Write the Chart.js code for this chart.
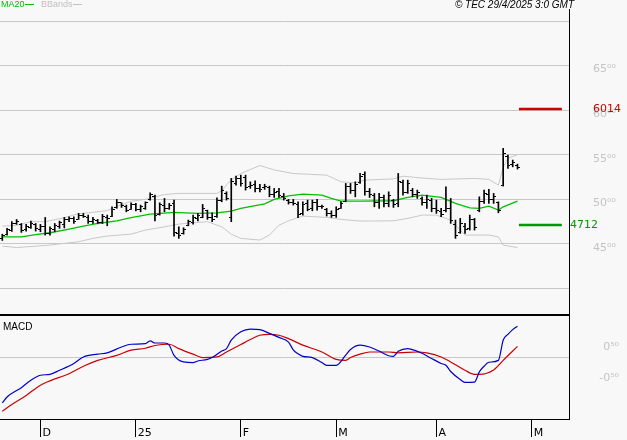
<!DOCTYPE html>
<html>
<head>
<meta charset="utf-8">
<script src="https://cdn.jsdelivr.net/npm/chart.js@4/dist/chart.umd.min.js"></script>
<style>
  html, body { margin: 0; padding: 0; background: #f8f8f8; }
  #wrap { position: relative; width: 627px; height: 440px; overflow: hidden; }
  canvas { position: absolute; left: 0; }
  #price { top: 0; }
  #macd { top: 316px; }
</style>
</head>
<body>
<div id="wrap">
  <canvas id="price" width="627" height="316"></canvas>
  <canvas id="macd" width="627" height="124"></canvas>
</div>
<script>
// daily bars, 20/11/2024 .. 28/4/2025 (index = trading day)
const highs = [46.1, 46.75, 47.5, 47.75, 47.3, 47.2, 47.57, 47.3, 47.2, 47.98,
  46.93, 47.3, 47.57, 47.98, 48.05, 48.05, 48.43, 48.43, 48.24, 47.98,
  47.76, 48.32, 48.24, 49.17, 50.0, 49.62, 49.36, 49.62, 49.55, 49.36,
  49.73, 50.74, 50.48, 49.62, 50.11, 49.55, 49.92, 46.93, 46.82, 47.68,
  48.24, 48.43, 49.44, 48.8, 48.5, 50.18, 51.49, 50.85, 52.35, 52.61,
  52.72, 52.72, 51.97, 52.09, 51.7, 51.7, 51.49, 51.23, 51.23, 50.67,
  50.0, 50.0, 49.73, 49.73, 49.92, 49.92, 50.0, 49.36, 48.99, 48.72,
  49.17, 49.73, 51.79, 51.79, 51.97, 52.91, 53.1, 51.23, 50.67, 50.67,
  50.48, 50.85, 50.0, 52.91, 52.16, 52.16, 51.23, 51.04, 50.29, 50.48,
  50.11, 49.92, 48.99, 51.41, 50.11, 47.68, 47.87, 47.31, 48.24, 47.87,
  50.29, 51.04, 51.12, 50.67, 49.73, 55.72, 54.97, 54.41, 53.96]
const lows = [45.4, 46.0, 46.4, 47.2, 46.3, 46.45, 46.75, 46.45, 46.37, 46.0,
  46.0, 46.37, 46.75, 46.8, 47.5, 47.3, 47.76, 47.98, 47.3, 47.3,
  47.3, 47.3, 47.04, 48.05, 49.0, 49.1, 48.61, 48.88, 48.72, 48.61,
  48.88, 49.92, 47.6, 48.24, 48.61, 48.88, 45.89, 45.63, 46.1, 47.04,
  47.23, 47.6, 47.94, 47.76, 47.5, 47.98, 49.73, 49.92, 47.5, 51.6,
  51.49, 51.04, 51.23, 50.85, 50.85, 51.12, 50.29, 50.22, 50.22, 49.92,
  49.47, 49.36, 47.94, 48.24, 48.72, 48.72, 48.8, 48.99, 48.13, 47.98,
  47.98, 48.99, 49.73, 50.67, 50.29, 51.79, 50.48, 50.22, 49.17, 48.99,
  49.17, 49.17, 49.1, 49.17, 50.48, 50.67, 50.29, 50.11, 49.36, 48.99,
  48.61, 48.43, 48.05, 48.61, 47.31, 45.63, 46.19, 46.19, 46.56, 46.56,
  48.61, 49.55, 49.55, 49.55, 48.5, 51.49, 53.48, 53.65, 53.4]
const opens = [45.6, 46.1, 46.5, 47.3, 47.2, 46.6, 46.9, 47.2, 46.6, 47.0,
  46.2, 46.6, 47.0, 47.2, 47.8, 47.9, 47.8, 48.2, 48.0, 47.5,
  47.6, 47.4, 48.0, 48.1, 49.1, 49.6, 49.2, 48.9, 49.4, 48.9,
  49.0, 50.0, 50.3, 48.3, 49.3, 49.0, 49.5, 46.2, 46.2, 47.1,
  47.4, 47.9, 48.0, 48.7, 48.0, 48.1, 49.9, 50.7, 48.0, 51.8,
  52.3, 52.4, 51.4, 51.7, 51.2, 51.3, 51.3, 50.5, 50.9, 50.3,
  49.9, 49.6, 49.4, 48.4, 49.5, 49.0, 49.6, 49.2, 48.9, 48.4,
  48.2, 49.0, 49.8, 51.4, 51.0, 51.9, 52.8, 50.9, 50.4, 49.6,
  50.2, 49.5, 49.9, 49.5, 51.9, 50.8, 51.0, 50.5, 50.1, 49.6,
  49.9, 49.0, 48.6, 48.7, 49.0, 47.2, 46.3, 47.0, 46.7, 47.7,
  48.8, 49.8, 50.6, 50.0, 49.6, 51.6, 54.8, 53.9, 53.8]
const closes = [46.0, 46.6, 47.3, 47.5, 46.5, 47.0, 47.3, 46.7, 47.0, 46.2,
  46.7, 47.1, 47.4, 47.8, 47.9, 47.5, 48.2, 48.1, 47.5, 47.7,
  47.4, 48.1, 47.9, 48.9, 49.7, 49.3, 48.8, 49.4, 48.9, 49.2,
  49.6, 50.5, 48.2, 49.4, 49.0, 49.3, 46.3, 46.0, 46.6, 47.5,
  48.0, 48.2, 49.0, 48.0, 47.7, 49.9, 51.0, 50.1, 52.0, 52.3,
  51.8, 51.3, 51.6, 51.2, 51.1, 51.5, 50.5, 50.8, 50.4, 50.1,
  49.6, 49.5, 48.3, 49.4, 48.9, 49.7, 49.2, 49.2, 48.4, 48.2,
  48.9, 49.5, 51.4, 51.0, 51.7, 52.6, 50.9, 50.5, 49.6, 50.2,
  49.5, 50.4, 49.4, 52.0, 50.8, 51.8, 50.6, 50.8, 49.6, 50.0,
  49.0, 48.7, 48.3, 49.0, 47.6, 46.0, 47.3, 46.6, 47.8, 46.8,
  49.8, 50.7, 50.0, 50.3, 48.8, 55.2, 53.8, 54.1, 53.6]

// MA20 and Bollinger bands, read at these bar indices
const maIdx = [0, 4, 7, 10, 14, 17, 20, 24, 27, 31, 36, 41, 45, 48, 50, 55, 57, 60, 63, 67,
  69, 71, 75, 82, 85, 88, 92, 95, 98, 100, 102, 104, 105, 108]
const maVal = [45.8, 45.8, 46.05, 46.26, 46.67, 47.0, 47.3, 47.6, 47.95, 48.35, 48.54, 48.43,
  48.5, 48.69, 48.99, 49.5, 50.0, 50.4, 50.6, 50.48, 50.11, 49.8, 49.8, 49.85, 50.22,
  50.48, 50.22, 49.55, 49.06, 49.0, 49.25, 48.8, 49.17, 49.8]
const upIdx = [0, 3, 6, 9, 13, 16, 19, 22, 24, 27, 30, 34, 37, 45, 46, 48, 50, 54, 57, 61,
  68, 71, 74, 76, 82, 84, 88, 92, 99, 102, 104, 105, 106, 108]
const upVal = [47.0, 47.1, 47.5, 47.5, 47.95, 48.4, 48.55, 48.75, 49.2, 49.8, 50.0, 50.55,
  50.67, 50.67, 51.0, 52.2, 52.9, 53.8, 53.3, 52.9, 52.72, 51.97, 51.86, 52.16, 52.3,
  52.6, 52.4, 52.24, 52.35, 52.24, 51.6, 53.6, 54.6, 55.0]
const loIdx = [0, 3, 7, 10, 13, 16, 19, 22, 27, 30, 34, 37, 43, 46, 48, 50, 54, 56, 58, 60,
  63, 68, 71, 75, 82, 85, 88, 91, 94, 96, 97, 102, 104, 105, 108]
const loVal = [44.76, 44.6, 44.76, 44.88, 45.07, 45.25, 45.63, 45.89, 46.11, 46.56, 46.93,
  47.23, 47.5, 46.93, 46.1, 45.63, 45.44, 46.0, 47.1, 47.6, 48.13, 47.98, 47.76, 47.57,
  47.6, 47.87, 48.24, 48.24, 47.68, 46.56, 46.0, 46.0, 45.8, 44.88, 44.6]

// MACD (blue) and signal (red)
const macdIdx = [0, 1, 4, 6, 8, 10, 12, 15, 17, 20, 22, 25, 27, 30, 31, 32, 34, 35, 36, 38,
  40, 41, 43, 44, 46, 47, 48, 50, 52, 54, 56, 58, 60, 61, 62, 63, 65, 67, 68, 70,
  72, 73, 75, 77, 79, 81, 82, 83, 85, 87, 88, 90, 92, 93, 94, 96, 97, 99, 100, 101,
  102, 104, 105, 106, 107, 108]
const macdVal = [-1.46, -1.27, -0.97, -0.73, -0.57, -0.54, -0.41, -0.19, 0.02, 0.11, 0.15,
  0.34, 0.43, 0.45, 0.54, 0.47, 0.47, 0.40, 0.07, -0.14, -0.16, -0.11, -0.06, 0.0, 0.21,
  0.29, 0.56, 0.83, 0.92, 0.90, 0.78, 0.65, 0.50, 0.25, 0.12, 0.04, 0.0, -0.16, -0.25,
  -0.25, 0.08, 0.26, 0.40, 0.34, 0.21, 0.06, 0.04, 0.20, 0.29, 0.20, 0.14, -0.03, -0.19,
  -0.25, -0.45, -0.71, -0.80, -0.79, -0.46, -0.28, -0.15, -0.09, 0.56, 0.75, 0.90, 1.01]
const sigIdx = [0, 2, 5, 8, 10, 14, 17, 20, 24, 27, 30, 32, 35, 37, 40, 42, 45, 47, 50, 52,
  54, 56, 58, 60, 63, 67, 70, 72, 73, 75, 77, 81, 83, 87, 89, 92, 94, 97, 99, 100,
  103, 105, 108]
const sigVal = [-1.73, -1.51, -1.22, -0.89, -0.75, -0.52, -0.28, -0.09, 0.07, 0.24, 0.30,
  0.39, 0.43, 0.29, 0.11, 0.0, 0.02, 0.18, 0.42, 0.58, 0.72, 0.75, 0.72, 0.61, 0.40, 0.18,
  -0.06, -0.09, 0.0, 0.11, 0.18, 0.18, 0.15, 0.18, 0.15, 0.02, -0.14, -0.41, -0.54, -0.54,
  -0.40, -0.09, 0.36]

// x axis: month starts
const monthIdx = [8, 28, 50, 70, 91, 111]
const monthLabels = ['D', '25', 'F', 'M', 'A', 'M']

const priceGrid = [40, 45, 50, 55, 60, 65, 70]
const priceLabelled = [45, 50, 55, 60, 65]
const macdTicks = [-0.5, 0, 0.5]

// target levels drawn to the right of the last bar
const levelHigh = 60.14
const levelLow = 47.12
const levelFrom = 108.3
const levelTo = 117.3

const X_MIN = -0.48
const X_MAX = 118.8
const GRID = '#c8c8c8'
const LABEL = '#c4c4c4'

const SUP = '⁰¹²³⁴⁵⁶⁷⁸⁹'
function fmt(v) {
  const parts = v.toFixed(2).split('.')
  return parts[0] + parts[1].split('').map(d => SUP[+d]).join('')
}

function tickImg(side) {
  const c = document.createElement('canvas')
  c.width = 5
  c.height = 1
  const g = c.getContext('2d')
  g.fillStyle = '#000'
  g.fillRect(side < 0 ? 0 : 3, 0, 2, 1)
  return c
}

const pts = (idx, val) => idx.map((x, k) => ({ x: x, y: val[k] }))

function fixY(s) {
  s.width = 58
  s.paddingTop = 0
  s.paddingBottom = 0
}

const priceDeco = {
  id: 'priceDeco',
  afterDraw(chart) {
    const ctx = chart.ctx
    const a = chart.chartArea
    const y = chart.scales.y
    ctx.save()
    ctx.textBaseline = 'middle'
    ctx.font = '9px "Liberation Sans", Arial, sans-serif'
    ctx.fillStyle = '#00c000'
    ctx.fillText('MA20', 1, 5)
    ctx.fillRect(25, 4, 9, 1)
    ctx.fillStyle = '#c0c0c0'
    ctx.fillText('BBands', 41, 5)
    ctx.fillRect(73, 4, 9, 1)

    ctx.fillStyle = '#000'
    ctx.font = 'italic 10px "Liberation Sans", Arial, sans-serif'
    ctx.textAlign = 'right'
    ctx.fillText('© TEC 29/4/2025 3:0 GMT', 574, 5)

    ctx.fillRect(a.right, 9, 1, a.bottom - 9)
    ctx.fillRect(0, a.bottom - 1, a.right + 1, 2)

    ctx.textAlign = 'left'
    ctx.font = '11px "DejaVu Sans", sans-serif'
    ctx.fillStyle = '#cc0000'
    ctx.fillText('6014', 593, y.getPixelForValue(levelHigh))
    ctx.fillStyle = '#009900'
    ctx.fillText('4712', 570, y.getPixelForValue(levelLow))
    ctx.restore()
  }
}

const macdDeco = {
  id: 'macdDeco',
  afterDraw(chart) {
    const ctx = chart.ctx
    const a = chart.chartArea
    ctx.save()
    ctx.fillStyle = '#000'
    ctx.fillRect(a.right, 0, 1, a.bottom + 1)
    ctx.font = '10px "Liberation Sans", Arial, sans-serif'
    ctx.textBaseline = 'middle'
    ctx.fillText('MACD', 3, 11)
    ctx.restore()
  }
}

const priceChart = new Chart(document.getElementById('price'), {
  type: 'bar',
  data: {
    datasets: [
      {
        type: 'bar',
        data: highs.map((h, i) => ({ x: i, y: [lows[i], h] })),
        backgroundColor: '#000',
        barThickness: 1,
        order: 0,
      },
      {
        type: 'line',
        data: opens.map((o, i) => ({ x: i, y: o })),
        showLine: false,
        pointStyle: tickImg(-1),
        pointRadius: 2,
        order: 0,
      },
      {
        type: 'line',
        data: closes.map((c, i) => ({ x: i, y: c })),
        showLine: false,
        pointStyle: tickImg(1),
        pointRadius: 2,
        order: 0,
      },
      {
        type: 'line',
        data: pts(maIdx, maVal),
        borderColor: '#00c000',
        borderWidth: 1.3,
        pointRadius: 0,
        order: 1,
      },
      {
        type: 'line',
        data: pts(upIdx, upVal),
        borderColor: GRID,
        borderWidth: 1,
        pointRadius: 0,
        order: 2,
      },
      {
        type: 'line',
        data: pts(loIdx, loVal),
        borderColor: GRID,
        borderWidth: 1,
        pointRadius: 0,
        order: 2,
      },
      {
        type: 'line',
        data: [{ x: levelFrom, y: levelHigh }, { x: levelTo, y: levelHigh }],
        borderColor: '#cc0000',
        borderWidth: 2.5,
        pointRadius: 0,
        order: 3,
      },
      {
        type: 'line',
        data: [{ x: levelFrom, y: levelLow }, { x: levelTo, y: levelLow }],
        borderColor: '#009900',
        borderWidth: 2.5,
        pointRadius: 0,
        order: 3,
      },
    ],
  },
  options: {
    responsive: false,
    animation: false,
    layout: { autoPadding: false, padding: { top: 21, bottom: 1, left: 0, right: 0 } },
    plugins: { legend: { display: false }, tooltip: { enabled: false } },
    scales: {
      x: { type: 'linear', min: X_MIN, max: X_MAX, offset: false, display: false },
      y: {
        position: 'right',
        min: 37.04,
        max: 70,
        afterBuildTicks: s => { s.ticks = priceGrid.map(v => ({ value: v })) },
        afterFit: fixY,
        border: { display: false },
        grid: { color: GRID, drawTicks: false },
        ticks: {
          color: LABEL,
          padding: 24,
          labelOffset: 4,
          font: { family: 'DejaVu Sans', size: 11 },
          callback: v => priceLabelled.includes(v) ? fmt(v) : '',
        },
      },
    },
  },
  plugins: [priceDeco],
})

const macdChart = new Chart(document.getElementById('macd'), {
  type: 'line',
  data: {
    datasets: [
      {
        data: pts(macdIdx, macdVal),
        borderColor: '#0000cc',
        borderWidth: 1.2,
        pointRadius: 0,
        cubicInterpolationMode: 'monotone',
      },
      {
        data: pts(sigIdx, sigVal),
        borderColor: '#cc0000',
        borderWidth: 1.2,
        pointRadius: 0,
        cubicInterpolationMode: 'monotone',
      },
    ],
  },
  options: {
    responsive: false,
    animation: false,
    // right padding keeps the right-aligned labels ending where the reference ends them
    layout: { autoPadding: false, padding: { top: 0, bottom: 0, left: 0, right: 8 } },
    plugins: { legend: { display: false }, tooltip: { enabled: false } },
    scales: {
      x: {
        type: 'linear',
        min: X_MIN,
        max: X_MAX,
        offset: false,
        afterBuildTicks: s => { s.ticks = monthIdx.map(v => ({ value: v })) },
        afterFit: s => { s.height = 21; s.paddingLeft = 0; s.paddingRight = 0 },
        border: { display: true, color: '#000', width: 1 },
        grid: { drawOnChartArea: false, drawTicks: true, tickLength: 18, color: '#000' },
        ticks: {
          color: '#000',
          align: 'start',
          labelOffset: 2,
          padding: -10,
          maxRotation: 0,
          autoSkip: false,
          font: { family: 'DejaVu Sans', size: 11 },
          callback: v => monthLabels[monthIdx.indexOf(v)],
        },
      },
      y: {
        position: 'right',
        min: -1.98,
        max: 1.34,
        afterBuildTicks: s => { s.ticks = macdTicks.map(v => ({ value: v })) },
        afterFit: s => { fixY(s); s.width = 50 },
        border: { display: false },
        grid: { color: c => c.tick && c.tick.value === 0 ? GRID : 'rgba(0,0,0,0)', drawTicks: false },
        ticks: {
          color: LABEL,
          padding: 20,
          labelOffset: 5,
          crossAlign: 'far',
          font: { family: 'DejaVu Sans', size: 11 },
          callback: v => v === 0 ? '' : fmt(v),
        },
      },
    },
  },
  plugins: [macdDeco],
})
</script>
</body>
</html>
